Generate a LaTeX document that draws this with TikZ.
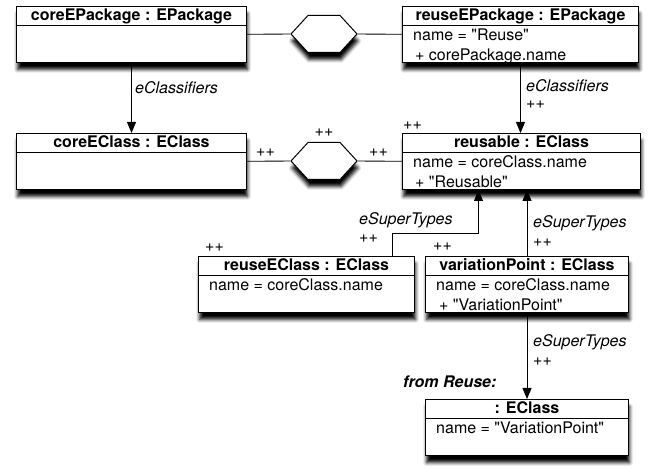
\documentclass[tikz,border=0pt]{standalone}
\usepackage{fontspec}
\setmainfont{TeX Gyre Heros}
\usetikzlibrary{arrows.meta,shapes.symbols,shadows.blur}
\newcommand\objsize{\fontsize{16}{20}\selectfont}
\newcommand\qq{\textquotedbl}
\tikzset{%
  shade/.style={blur shadow={shadow xshift=1pt,shadow yshift=-7pt,shadow blur radius=3.5pt,shadow opacity=100}},
  obj/.style={draw,fill=white,line width=1pt,anchor=north west,minimum height=56pt,inner sep=0,shade},
  otitle/.style={anchor=north,inner sep=0,text height=14.5pt,text depth=4.5pt,font=\objsize\bfseries},
  oattr/.style={anchor=north west,inner xsep=11pt,inner ysep=0,align=left},
  hexa/.style={draw,fill=white,line width=1pt,shape=signal,signal to=east and west,
    signal pointer angle=95,minimum width=66pt,minimum height=37pt,inner sep=0,shade},
  link/.style={draw,line width=0.8pt},
  arr/.style={link,-{Triangle[length=11pt,width=9pt]}},
  role/.style={anchor=west,inner sep=0,font=\objsize\itshape},
  mult/.style={anchor=west,inner sep=0}
}

\begin{document}
\begin{tikzpicture}[x=1pt,y=1pt,font=\objsize]
  \useasboundingbox (0,0) rectangle (652,468);
  % object boxes
  \path
    (16,462) node[obj,minimum width=230pt] (cpkg) {}
    (402,462) node[obj,minimum width=236pt] (rpkg) {}
    (16,335) node[obj,minimum width=230pt] (ccls) {}
    (402,335) node[obj,minimum width=238pt] (reus) {}
    (198,212) node[obj,minimum width=216pt] (recl) {}
    (425,212) node[obj,minimum width=203pt] (vp) {}
    (425,69) node[obj,minimum width=203pt] (ecl) {};
  \path
    (324,434) node[hexa] (hx1) {}
    (324,307) node[hexa] (hx2) {};
  % headers
  \path
    (cpkg.north) node[otitle] (cpkgt) {coreEPackage : EPackage}
    (rpkg.north) node[otitle] (rpkgt) {reuseEPackage : EPackage}
    (ccls.north) node[otitle] (cclst) {coreEClass : EClass}
    (reus.north) node[otitle] (reust) {reusable : EClass}
    (recl.north) node[otitle] (reclt) {reuseEClass : EClass}
    (vp.north) node[otitle] (vpt) {variationPoint : EClass}
    (ecl.north) node[otitle] (eclt) {: EClass};
  \foreach \o in {cpkg,rpkg,ccls,reus,recl,vp,ecl}
    \draw[line width=1pt] (\o.west |- \o t.south) -- (\o.east |- \o t.south);
  % attributes (strut keeps the first baseline 15pt under the header)
  \path
    (rpkg.west |- rpkgt.south) node[oattr] (rpkga) {\rule{0pt}{15pt}name = \qq Reuse\qq\\\hspace{2pt}+ corePackage.name}
    (reus.west |- reust.south) node[oattr] (reusa) {\rule{0pt}{15pt}name = coreClass.name\\\hspace{2pt}+ \qq Reusable\qq}
    (recl.west |- reclt.south) node[oattr] (recla) {\rule{0pt}{15pt}name = coreClass.name}
    (vp.west |- vpt.south) node[oattr] (vpa) {\rule{0pt}{15pt}name = coreClass.name\\\hspace{3pt}+ \qq VariationPoint\qq}
    (ecl.west |- eclt.south) node[oattr] (ecla) {\rule{0pt}{15pt}name = \qq VariationPoint\qq};
  % links
  \draw[link] (cpkg) -- (hx1) -- (rpkg);
  \draw[link] (ccls) -- (hx2) -- (reus);
  \draw[arr] (cpkg) -- (ccls);
  \draw[arr] (rpkg.south) -- (rpkg.south |- reus.north);
  \draw[arr] ([xshift=-23pt]recl.north east) -- ++(0,23) -| ([xshift=-43pt]reus.south);
  \draw[arr] (vp) -- (vp.north |- reus.south);
  \draw[arr] (vp) -- (ecl);
  % roles and multiplicities
  \path
    (135,380) node[role] (r1) {eClassifiers}
    (526,382) node[role] (r2) {eClassifiers}
    (526,363) node[mult] (m1) {++}
    (403,342) node[mult] (m2) {++}
    (256,315) node[mult] (m3) {++}
    (324,335) node[mult,anchor=center] (m4) {++}
    (369,315) node[mult] (m5) {++}
    (359,248) node[role] (r3) {eSuperTypes}
    (359,229) node[mult] (m6) {++}
    (205,220) node[mult] (m7) {++}
    (433,221) node[mult] (m8) {++}
    (533,245) node[role] (r4) {eSuperTypes}
    (533,225) node[mult] (m9) {++}
    (533,126) node[role] (r5) {eSuperTypes}
    (533,106) node[mult] (m10) {++}
    (403,86) node[role,font=\objsize\bfseries\itshape] (from) {from Reuse:};
\end{tikzpicture}
\end{document}
